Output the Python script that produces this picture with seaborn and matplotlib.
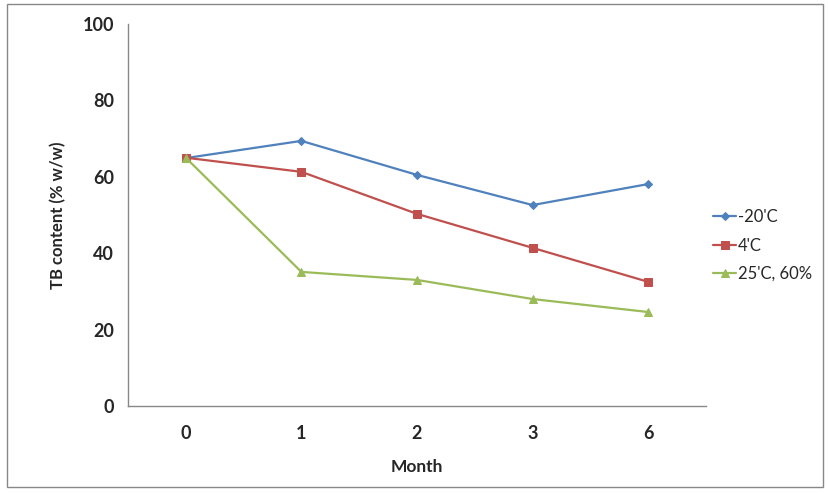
import matplotlib
matplotlib.use("Agg")
import matplotlib.pyplot as plt
import pandas as pd
import seaborn as sns
from matplotlib.patches import Rectangle

months = ["0", "1", "2", "3", "6"]
series_names = ["-20'C", "4'C", "25'C, 60%"]
minus20 = [64.9, 69.4, 60.5, 52.6, 58.1]
plus4 = [65.0, 61.3, 50.3, 41.4, 32.5]
plus25 = [65.0, 35.1, 33.0, 28.0, 24.6]

COLORS = {"-20'C": "#4F81BD", "4'C": "#C0504D", "25'C, 60%": "#9BBB59"}
MARKERS = {"-20'C": "D", "4'C": "s", "25'C, 60%": "^"}
MSIZE = {"-20'C": 4.5, "4'C": 6, "25'C, 60%": 6}

rows = []
for name, vals in zip(series_names, [minus20, plus4, plus25]):
    for m, v in zip(months, vals):
        rows.append({"month": m, "value": v, "series": name})
df = pd.DataFrame(rows)

sns.set_style("white")
plt.rcParams["font.family"] = ["Lato", "DejaVu Sans"]

fig = plt.figure(figsize=(8.29, 4.93), dpi=100)
ax = fig.add_axes([0.1544, 0.1765, 0.6972, 0.7748])

for name in series_names:
    sub = df[df["series"] == name]
    sns.lineplot(
        data=sub, x="month", y="value", ax=ax, color=COLORS[name],
        marker=MARKERS[name], markersize=MSIZE[name], markeredgecolor=COLORS[name],
        linewidth=1.6, label=name, sort=False,
    )

ax.set_xlim(-0.5, len(months) - 0.5)
ax.set_ylim(0, 100)
ax.set_yticks(range(0, 101, 20))
for side in ["top", "right"]:
    ax.spines[side].set_visible(False)
for side in ["left", "bottom"]:
    ax.spines[side].set_color("#888888")
    ax.spines[side].set_linewidth(1.0)
ax.tick_params(axis="y", length=5, width=1, color="#888888", direction="out", pad=5, labelsize=13)
ax.tick_params(axis="x", length=0, pad=14, labelsize=13)
for lab in ax.get_xticklabels() + ax.get_yticklabels():
    lab.set_fontweight("bold")

ax.set_xlabel("Month", fontsize=12.5, fontweight="bold", labelpad=12)
ax.set_ylabel("TB content (% w/w)", fontsize=12, fontweight="bold", labelpad=12)

ax.get_legend().remove()
handles, labels = ax.get_legend_handles_labels()
fig.legend(
    handles, labels, loc="center left", bbox_to_anchor=(0.842, 0.502),
    frameon=False, fontsize=12, handlelength=1.4, handletextpad=0.1,
    labelspacing=0.75,
)

fig.patches.append(Rectangle((0.009, 0.012), 0.984, 0.98, transform=fig.transFigure,
                             fill=False, edgecolor="#888888", linewidth=1.0))

fig.savefig("out.png", dpi=100)
